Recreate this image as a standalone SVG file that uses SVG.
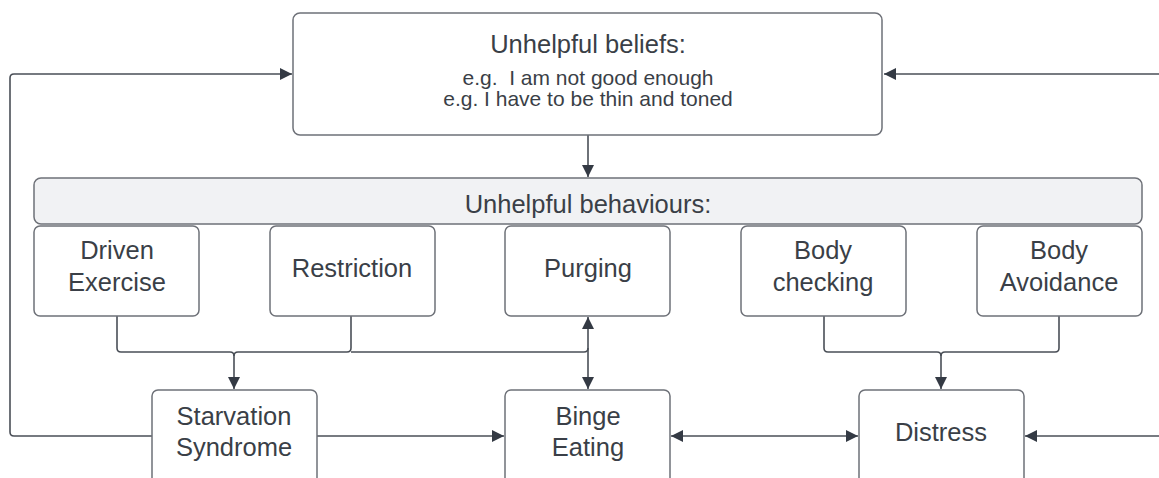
<svg xmlns="http://www.w3.org/2000/svg" width="1159" height="478" viewBox="0 0 1159 478">
<style>
.box{fill:#ffffff;stroke:#6e7178;stroke-width:1.5}
.bar{fill:#f1f2f4;stroke:#6e7178;stroke-width:1.5}
.t{font-family:"Liberation Sans",Arial,sans-serif;fill:#3a3f47;text-anchor:middle}
.n{font-size:25.5px}
.s{font-size:21px}
.c{fill:none;stroke:#4a4f57;stroke-width:1.6}
</style>
<defs>
<marker id="ah" markerUnits="userSpaceOnUse" markerWidth="13" markerHeight="13" refX="12" refY="6" orient="auto-start-reverse" viewBox="0 0 13 13">
<path d="M0,0 L12,6 L0,12 z" fill="#343a44"/>
</marker>
</defs>
<rect width="1159" height="478" fill="#ffffff"/>
<g id="connectors">
<path class="c" d="M588,135 V177" marker-end="url(#ah)"/>
<path class="c" d="M152,436 H14 Q10,436 10,432 V78 Q10,74 14,74 H292" marker-end="url(#ah)"/>
<path class="c" d="M1159,74 H884" marker-end="url(#ah)"/>
<path class="c" d="M117,316 V348 Q117,352 121,352 H230 Q234,352 234,356 V389" marker-end="url(#ah)"/>
<path class="c" d="M351,316 V348 Q351,352 347,352 H238 Q234,352 234,356"/>
<path class="c" d="M351,352 H584 Q588,352 588,348"/>
<path class="c" d="M588,389 V317" marker-start="url(#ah)" marker-end="url(#ah)"/>
<path class="c" d="M824,316 V348 Q824,352 828,352 H937 Q941,352 941,356 V389" marker-end="url(#ah)"/>
<path class="c" d="M1059,316 V348 Q1059,352 1055,352 H945 Q941,352 941,356"/>
<path class="c" d="M317,436 H504" marker-end="url(#ah)"/>
<path class="c" d="M671,436 H858" marker-start="url(#ah)" marker-end="url(#ah)"/>
<path class="c" d="M1159,436 H1025" marker-end="url(#ah)"/>
</g>
<g id="beliefs">
<rect class="box" x="293" y="13" width="589" height="122" rx="7"/>
<text class="t" x="588" y="53" font-size="25.5">Unhelpful beliefs:</text>
<text class="t s" x="588" y="85" xml:space="preserve">e.g.  I am not good enough</text>
<text class="t s" x="588" y="106">e.g. I have to be thin and toned</text>
</g>
<g id="behaviours">
<rect class="bar" x="34" y="178" width="1108" height="46" rx="7"/>
<text class="t n" x="588" y="213">Unhelpful behaviours:</text>
</g>
<g id="driven-exercise">
<rect class="box" x="34" y="226" width="165" height="90" rx="6"/>
<text class="t n" x="117" y="259">Driven</text>
<text class="t n" x="117" y="291">Exercise</text>
</g>
<g id="restriction">
<rect class="box" x="270" y="226" width="165" height="90" rx="6"/>
<text class="t n" x="352" y="277">Restriction</text>
</g>
<g id="purging">
<rect class="box" x="505" y="226" width="165" height="90" rx="6"/>
<text class="t n" x="588" y="277">Purging</text>
</g>
<g id="body-checking">
<rect class="box" x="741" y="226" width="165" height="90" rx="6"/>
<text class="t n" x="823" y="259">Body</text>
<text class="t n" x="823" y="291">checking</text>
</g>
<g id="body-avoidance">
<rect class="box" x="977" y="226" width="165" height="90" rx="6"/>
<text class="t n" x="1059" y="259">Body</text>
<text class="t n" x="1059" y="291">Avoidance</text>
</g>
<g id="starvation-syndrome">
<rect class="box" x="152" y="390" width="165" height="100" rx="6"/>
<text class="t n" x="234" y="425">Starvation</text>
<text class="t n" x="234" y="456">Syndrome</text>
</g>
<g id="binge-eating">
<rect class="box" x="505" y="390" width="165" height="100" rx="6"/>
<text class="t n" x="588" y="425">Binge</text>
<text class="t n" x="588" y="456">Eating</text>
</g>
<g id="distress">
<rect class="box" x="859" y="390" width="165" height="100" rx="6"/>
<text class="t n" x="941" y="441">Distress</text>
</g>
</svg>
